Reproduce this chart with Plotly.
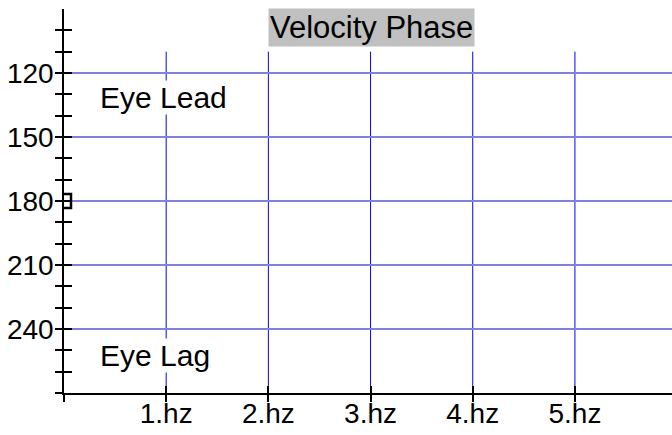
import plotly.graph_objects as go

# ---- data ----
freq_ticks = [0, 1, 2, 3, 4, 5]
freq_labels = ["", "1.hz", "2.hz", "3.hz", "4.hz", "5.hz"]
phase_ticks = [120, 150, 180, 210, 240]
phase_labels = ["120", "150", "180", "210", "240"]
phase_minor = [100, 110, 130, 140, 160, 170, 190, 200, 220, 230, 250, 260, 270]
point_freq = [0]
point_phase = [180]
grid_freqs = [1, 2, 3, 4, 5]
grid_top = 110
x_range = [0, 5.95]
y_range = [270, 90]

FONT = "Liberation Sans, Arial, sans-serif"
FS = 28
FA = 30

fig = go.Figure()
fig.add_trace(go.Scatter(
    x=point_freq, y=point_phase, mode="markers",
    marker=dict(symbol="square-open", size=14, color="black", line=dict(width=2.5, color="black")),
    cliponaxis=True, showlegend=False, hoverinfo="skip"))
# helper trace for the overlay axes (inner halves of ticks)
fig.add_trace(go.Scatter(x=[None], y=[None], xaxis="x2", yaxis="y2",
                         mode="markers", showlegend=False, hoverinfo="skip"))

for f in grid_freqs:
    fig.add_shape(type="line", xref="x", yref="y", x0=f, x1=f, y0=grid_top, y1=y_range[0],
                  line=dict(color="#0000ff", width=1), layer="below")

fig.update_layout(
    width=672, height=435,
    margin=dict(l=64, r=0, t=9, b=42),
    paper_bgcolor="white", plot_bgcolor="white",
    font=dict(family=FONT, size=FS, color="black"),
    xaxis=dict(range=x_range, tickvals=freq_ticks, ticktext=freq_labels,
               ticks="outside", ticklen=7, tickwidth=1.5, tickcolor="black",
               showline=True, linecolor="black", linewidth=2,
               showgrid=False, zeroline=False, automargin=False,
               ticklabelstandoff=-13,
               tickfont=dict(family=FONT, size=FS, color="black")),
    yaxis=dict(range=y_range, tickvals=phase_ticks, ticktext=phase_labels,
               ticks="outside", ticklen=7, tickwidth=1.5, tickcolor="black",
               showline=True, linecolor="black", linewidth=1.5,
               showgrid=True, gridcolor="#8080e0", gridwidth=2, zeroline=False,
               automargin=False, ticklabelstandoff=-4,
               tickfont=dict(family=FONT, size=FS, color="black"),
               minor=dict(tickvals=phase_minor, ticks="outside", ticklen=7,
                          tickwidth=1.5, tickcolor="black", showgrid=False)),
    xaxis2=dict(range=x_range, overlaying="x", side="bottom", anchor="y2",
                tickvals=freq_ticks, showticklabels=False, automargin=False,
                ticks="inside", ticklen=7, tickwidth=1.5, tickcolor="black",
                showline=False, showgrid=False, zeroline=False),
    yaxis2=dict(range=y_range, overlaying="y", side="left", anchor="x2",
                tickvals=phase_ticks, showticklabels=False, automargin=False,
                ticks="inside", ticklen=8, tickwidth=1.5, tickcolor="black",
                showline=False, showgrid=False, zeroline=False,
                minor=dict(tickvals=phase_minor, ticks="inside", ticklen=8,
                           tickwidth=1.5, tickcolor="black", showgrid=False)),
    annotations=[
        dict(text="Velocity Phase", xref="paper", yref="paper", x=0.5058, y=0.952,
             xanchor="center", yanchor="middle", showarrow=False,
             bgcolor="#c0c0c0", borderpad=1, font=dict(family=FONT, size=31, color="black")),
        dict(text="Eye Lead", xref="x", yref="y", x=0.34, y=131.7,
             xanchor="left", yanchor="middle", showarrow=False,
             bgcolor="white", borderpad=0, font=dict(family=FONT, size=FA, color="black")),
        dict(text="Eye Lag", xref="x", yref="y", x=0.34, y=252.2,
             xanchor="left", yanchor="middle", showarrow=False,
             bgcolor="white", borderpad=0, font=dict(family=FONT, size=FA, color="black")),
    ],
)

fig.write_html("out.html", config={"displayModeBar": False},
               post_script="document.body.style.margin='0px';document.body.style.overflow='hidden';")
